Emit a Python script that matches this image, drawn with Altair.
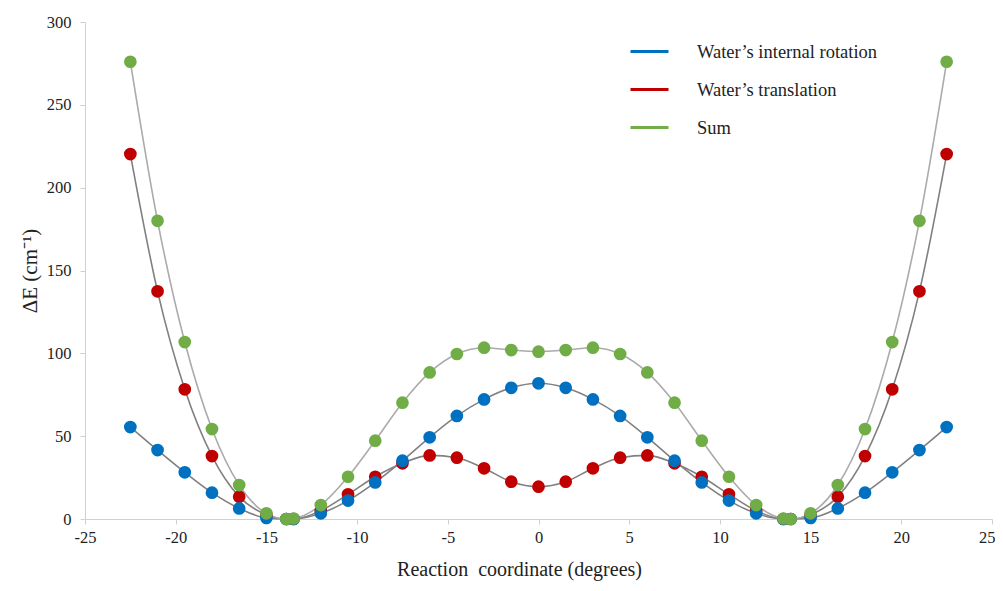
import altair as alt
import pandas as pd

# Reaction coordinate (degrees)
x_vals = [-22.5, -21, -19.5, -18, -16.5, -15, -13.9, -13.5, -12, -10.5, -9, -7.5, -6, -4.5, -3, -1.5, 0,
          1.5, 3, 4.5, 6, 7.5, 9, 10.5, 12, 13.5, 13.9, 15, 16.5, 18, 19.5, 21, 22.5]

rotation = [55.5, 41.6, 28.2, 15.9, 6.4, 0.6, 0, 0, 3.4, 11.1, 22.1, 35.2, 49.3, 62.2, 72.2, 79.2, 81.9,
            79.2, 72.2, 62.2, 49.3, 35.2, 22.1, 11.1, 3.4, 0, 0, 0.6, 6.4, 15.9, 28.2, 41.6, 55.5]

translation = [220.3, 137.4, 78.3, 38.0, 13.5, 2.6, 0, 0, 5.0, 14.9, 25.5, 33.6, 38.4, 37.0, 30.6, 22.5, 19.5,
               22.5, 30.6, 37.0, 38.4, 33.6, 25.5, 14.9, 5.0, 0, 0, 2.6, 13.5, 38.0, 78.3, 137.4, 220.3]

total = [276.0, 180.0, 106.8, 54.3, 20.5, 3.4, 0, 0.3, 8.4, 25.5, 47.3, 70.2, 88.5, 99.6, 103.4, 102.0, 101.0,
         102.0, 103.4, 99.6, 88.5, 70.2, 47.3, 25.5, 8.4, 0.3, 0, 3.4, 20.5, 54.3, 106.8, 180.0, 276.0]

series_names = ["Water\u2019s internal rotation", "Water\u2019s translation", "Sum"]
series_colors = ["#0070C0", "#C00000", "#70AD47"]

x_ticks = [-25, -20, -15, -10, -5, 0, 5, 10, 15, 20, 25]
y_ticks = [0, 50, 100, 150, 200, 250, 300]

# draw order: translation, rotation, sum (sum on top)
rows = []
for name, vals in [(series_names[1], translation), (series_names[0], rotation), (series_names[2], total)]:
    for xv, yv in zip(x_vals, vals):
        rows.append({"x": xv, "y": yv, "series": name})
df = pd.DataFrame(rows)

FONT = "Liberation Serif"
HYPHEN = "replace(datum.label, '\u2212', '-')"

x_enc = alt.X("x:Q", scale=alt.Scale(domain=[-25, 25], nice=False, zero=False),
              axis=alt.Axis(values=x_ticks, title="Reaction\u00a0 coordinate (degrees)", grid=False,
                            labelExpr=HYPHEN,
                            labelAlign={"condition": {"test": "datum.value >= 25", "value": "right"},
                                        "value": "center"},
                            labelOffset={"condition": {"test": "datum.value >= 25", "value": 3},
                                         "value": 0},
                            labelFontSize=16.5, labelFont=FONT, labelColor="#222",
                            titleFont=FONT, titleFontSize=20, titleFontWeight="normal", titleColor="#222",
                            titlePadding=14, labelPadding=5, tickSize=5, titleX=434,
                            domainColor="#d0d0d0", tickColor="#d0d0d0", labelFlush=False))
y_enc = alt.Y("y:Q", scale=alt.Scale(domain=[0, 300], nice=False),
              axis=alt.Axis(values=y_ticks, title="\u0394E (cm\u207b\u00b9)", grid=False,
                            labelExpr=HYPHEN,
                            labelFontSize=16.5, labelFont=FONT, labelColor="#222",
                            titleFont=FONT, titleFontSize=21, titleFontWeight="normal", titleColor="#222",
                            titlePadding=6, labelPadding=9, tickSize=5,
                            domainColor="#d0d0d0", tickColor="#d0d0d0"))

color_scale = alt.Scale(domain=series_names, range=series_colors)
legend = alt.Legend(title=None, orient="none", legendX=544, legendY=9, symbolType="stroke",
                    symbolSize=1444, symbolStrokeWidth=3, labelOffset=27, labelFontSize=18.5,
                    labelFont=FONT, labelColor="#222", rowPadding=8, padding=0, labelLimit=0)

base = alt.Chart(df)

lines_dark = base.transform_filter(
    alt.datum.series != "Sum"
).mark_line(interpolate="monotone", stroke="#808080", strokeWidth=1.6).encode(
    x=x_enc, y=y_enc, detail="series:N"
)
lines_light = base.transform_filter(
    alt.datum.series == "Sum"
).mark_line(interpolate="monotone", stroke="#ababab", strokeWidth=1.6).encode(
    x=x_enc, y=y_enc, detail="series:N"
)
points = base.mark_circle(size=115, opacity=1).encode(
    x=x_enc, y=y_enc,
    color=alt.Color("series:N", scale=color_scale, legend=legend),
    stroke=alt.Stroke("series:N", scale=color_scale, legend=legend),
)

chart = alt.layer(lines_dark, lines_light, points).properties(
    width=907, height=497,
    autosize=alt.AutoSizeParams(type="none"),
    padding={"left": 77, "top": 14, "right": 3, "bottom": 64},
).configure_view(stroke=None)

chart.save("out.html", embed_options={"renderer": "svg", "actions": False})
